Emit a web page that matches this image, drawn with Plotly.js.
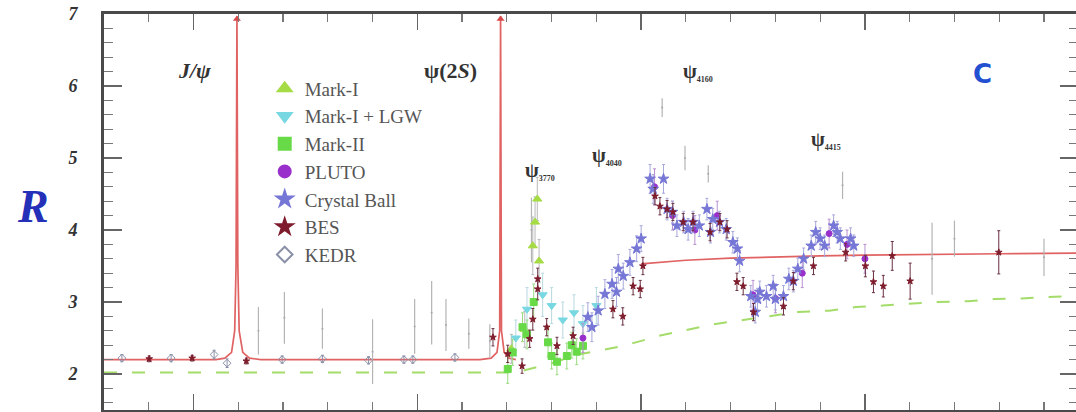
<!DOCTYPE html>
<html>
<head>
<meta charset="utf-8">
<script src="https://cdn.plot.ly/plotly-3.0.1.min.js"></script>
<style>
html,body{margin:0;padding:0;background:#fff;overflow:hidden;}
#chart{width:1080px;height:412px;}
</style>
</head>
<body>
<div id="chart"></div>
<script>
// ---- data (sqrt(s) in GeV, R) ----
const curveE = [2.80,3.05,3.07,3.085,3.092,3.095,3.097,3.099,3.102,3.11,3.125,3.15,3.64,3.665,3.678,3.684,3.686,3.688,3.694,3.705,3.72,null,4.00,4.10,4.20,4.30,4.40,4.50,4.60,4.70,4.80,4.98];
const curveR = [2.2,2.2,2.22,2.3,2.6,3.5,6.97,3.5,2.6,2.3,2.22,2.2,2.2,2.22,2.3,2.6,6.97,2.6,2.3,2.22,2.2,null,3.53,3.58,3.61,3.63,3.64,3.65,3.66,3.66,3.67,3.68];

// off-scale resonance peaks (arrow heads at the top of the frame)
const peakE = [3.097,3.686];
const peakR = [6.93,6.93];

const dashE = [2.80,3.72,3.80,3.86,3.96,4.04,4.16,4.29,4.35,4.42,4.48,4.54,4.60,4.66,4.73,4.79,4.85,4.91,4.98];
const dashR = [2.02,2.02,2.15,2.27,2.39,2.53,2.69,2.81,2.86,2.88,2.93,2.95,2.97,3.00,3.01,3.04,3.05,3.07,3.09];

const markIE   = [3.710,3.740,3.758,3.763,3.768,3.772];
const markIR   = [2.35,2.62,3.78,4.11,4.43,3.57];
const markIErr = [0.20,0.25,0.40,0.35,0.30,0.30];

const lgwE   = [3.720,3.745,3.780,3.800,3.825,3.850,3.870,3.900];
const lgwR   = [2.50,2.90,3.10,2.95,2.75,2.85,2.70,2.95];
const lgwErr = [0.25,0.30,0.30,0.25,0.25,0.25,0.25,0.25];

const markIIE   = [3.702,3.713,3.735,3.745,3.760,3.792,3.800,3.812,3.834,3.845,3.856,3.870];
const markIIR   = [2.07,2.30,2.65,2.55,3.00,2.44,2.25,2.17,2.25,2.40,2.31,2.39];
const markIIErr = [0.20,0.18,0.20,0.20,0.25,0.20,0.18,0.18,0.18,0.18,0.18,0.18];

const plutoE   = [3.870,4.030,4.070,4.120,4.170,4.250,4.300,4.360,4.420,4.460,4.500];
const plutoR   = [2.50,4.60,4.20,4.00,4.20,3.10,3.05,3.40,3.95,3.80,3.60];
const plutoErr = [0.20,0.25,0.20,0.20,0.20,0.20,0.20,0.20,0.20,0.20,0.20];

const cbE = [3.881,3.890,3.904,3.919,3.935,3.945,3.949,3.960,3.975,3.990,4.000,4.020,4.027,4.050,4.058,4.070,4.080,4.095,4.105,4.116,4.130,4.147,4.155,4.160,4.175,4.190,4.205,4.215,4.220,4.245,4.255,4.260,4.265,4.280,4.295,4.300,4.318,4.330,4.340,4.350,4.363,4.380,4.390,4.400,4.410,4.430,4.438,4.445,4.468,4.475];
const cbR = [2.79,2.65,2.88,3.11,3.25,3.14,3.46,3.36,3.55,3.74,3.88,4.71,4.57,4.71,4.29,4.25,4.06,4.11,4.01,4.11,4.06,4.29,3.97,4.15,4.11,4.01,3.83,3.74,3.57,3.08,2.86,3.04,3.14,3.08,3.22,3.04,3.08,3.32,3.29,3.46,3.60,3.78,3.97,3.88,3.78,4.06,3.97,3.88,3.88,3.78];
const cbErr = [0.20,0.20,0.20,0.20,0.20,0.20,0.20,0.18,0.18,0.18,0.18,0.20,0.20,0.20,0.15,0.15,0.15,0.15,0.15,0.15,0.15,0.15,0.15,0.15,0.15,0.15,0.15,0.15,0.15,0.15,0.15,0.15,0.15,0.15,0.15,0.15,0.15,0.15,0.15,0.15,0.15,0.15,0.15,0.15,0.15,0.15,0.15,0.15,0.15,0.15];

const besE = [2.901,2.997,3.118,3.669,3.702,3.734,3.751,3.758,3.769,3.769,3.789,3.812,3.848,3.937,3.959,3.982,3.998,4.004,4.031,4.042,4.058,4.071,4.094,4.116,4.154,4.176,4.192,4.214,4.228,4.251,4.318,4.340,4.385,4.457,4.501,4.519,4.541,4.561,4.601,4.799];
const besR = [2.21,2.22,2.18,2.51,2.28,2.11,2.49,2.76,3.32,3.18,2.65,2.39,2.53,2.90,2.80,3.22,3.18,3.50,4.47,4.33,4.29,4.25,4.11,4.11,3.97,4.11,4.01,3.28,3.22,2.86,2.94,3.29,3.50,3.69,3.50,3.28,3.22,3.64,3.29,3.69];
const besErr = [0.04,0.04,0.04,0.12,0.12,0.10,0.12,0.15,0.15,0.15,0.12,0.12,0.12,0.12,0.12,0.12,0.12,0.12,0.12,0.12,0.12,0.12,0.12,0.12,0.12,0.12,0.12,0.12,0.12,0.12,0.12,0.12,0.12,0.12,0.15,0.15,0.15,0.20,0.25,0.30];

const kedrE = [2.840,2.950,3.046,3.075,3.198,3.288,3.391,3.470,3.490,3.584];
const kedrR = [2.22,2.22,2.27,2.15,2.20,2.21,2.19,2.20,2.20,2.23];
const kedrErr = [0.05,0.05,0.06,0.06,0.05,0.05,0.05,0.05,0.05,0.05];

const otherE = [3.145,3.203,3.288,3.400,3.494,3.532,3.564,3.615,3.662,3.755,4.047,4.098,4.150,4.450,4.650,4.700,4.900];
const otherR = [2.60,2.78,2.63,2.31,2.66,2.85,2.68,2.56,2.46,4.00,5.70,5.00,4.78,4.62,3.60,3.88,3.62];
const otherErr = [0.33,0.36,0.28,0.45,0.38,0.44,0.36,0.21,0.23,0.45,0.13,0.17,0.12,0.19,0.50,0.25,0.26];

const yTicks = [2,3,4,5,6,7];
const yTickText = ['2','3','4','5','6','7'];

// ---- traces ----
function pts(name, x, y, err, symbol, color, size, group, ecol){
  return {type:'scatter', mode:'markers', name:name, x:x, y:y, legendgroup:group,
    marker:{symbol:symbol, color:color, size:size, line:{color:color, width:1}},
    error_y:{type:'data', array:err, visible:true, color:ecol||color, thickness:1, width:1.5},
    cliponaxis:true};
}
const traces = [
  {type:'scatter', mode:'lines', x:dashE, y:dashR, showlegend:false, hoverinfo:'skip',
   line:{color:'#a4dc6a', width:2, dash:'13px,15px'}},
  {type:'scatter', mode:'lines', x:curveE, y:curveR, showlegend:false, connectgaps:false, hoverinfo:'skip',
   line:{color:'#e06262', width:1.7}},
  {type:'scatter', mode:'markers', x:peakE, y:peakR, showlegend:false, hoverinfo:'skip', cliponaxis:false,
   marker:{symbol:'triangle-up', size:7, color:'#d84848'}},
  {type:'scatter', mode:'markers', x:otherE, y:otherR, showlegend:false,
   marker:{color:'#a8a8a8', size:2},
   error_y:{type:'data', array:otherErr, visible:true, color:'#b4b4b4', thickness:1.2, width:0}},
  pts('KEDR', kedrE, kedrR, kedrErr, 'diamond-open', '#8a90a8', 6, 'g7'),
  pts('Mark-I', markIE, markIR, markIErr, 'triangle-up', '#a5dc45', 8, 'g1', '#b8b8b8'),
  pts('Mark-I + LGW', lgwE, lgwR, lgwErr, 'triangle-down', '#78d8e2', 8, 'g2', '#b8d8e0'),
  pts('Mark-II', markIIE, markIIR, markIIErr, 'square', '#68da48', 7, 'g3', '#9ada80'),
  pts('PLUTO', plutoE, plutoR, plutoErr, 'circle', '#9a30cc', 6, 'g4', '#b890d0'),
  pts('Crystal Ball', cbE, cbR, cbErr, 'star', '#7676d6', 8, 'g5', '#a8a8dc'),
  pts('BES', besE, besR, besErr, 'star', '#7e1c2c', 5, 'g6', '#6a3040')
];
// legend order
const order = ['Mark-I','Mark-I + LGW','Mark-II','PLUTO','Crystal Ball','BES','KEDR'];
traces.forEach(t=>{ if(t.name){ t.legendrank = order.indexOf(t.name)+1; } });

const serif = "'Liberation Serif', 'Times New Roman', serif";
const subStyle = "style='font-size:8px'";
const annotations = [
  {xref:'paper', yref:'paper', x:-0.073, y:0.515, xanchor:'center', yanchor:'middle', showarrow:false,
   text:'R', font:{family:serif, size:46, color:'#2530b8', weight:'bold', style:'italic'}},
  {x:3.002, y:6.22, xref:'x', yref:'y', xanchor:'center', yanchor:'middle', showarrow:false,
   text:'J/ψ', font:{family:serif, size:22, color:'#333', weight:'bold', style:'italic'}},
  {x:3.575, y:6.22, xref:'x', yref:'y', xanchor:'center', yanchor:'middle', showarrow:false,
   text:'ψ(2<i>S</i>)', font:{family:serif, size:22, color:'#333', weight:'bold'}},
  {x:3.735, y:4.82, xref:'x', yref:'y', xanchor:'left', yanchor:'middle', showarrow:false,
   text:'ψ<sub><span '+subStyle+'>3770</span></sub>', font:{family:serif, size:20, color:'#333', weight:'bold'}},
  {x:3.885, y:5.03, xref:'x', yref:'y', xanchor:'left', yanchor:'middle', showarrow:false,
   text:'ψ<sub><span '+subStyle+'>4040</span></sub>', font:{family:serif, size:20, color:'#333', weight:'bold'}},
  {x:4.09, y:6.20, xref:'x', yref:'y', xanchor:'left', yanchor:'middle', showarrow:false,
   text:'ψ<sub><span '+subStyle+'>4160</span></sub>', font:{family:serif, size:20, color:'#333', weight:'bold'}},
  {x:4.375, y:5.25, xref:'x', yref:'y', xanchor:'left', yanchor:'middle', showarrow:false,
   text:'ψ<sub><span '+subStyle+'>4415</span></sub>', font:{family:serif, size:20, color:'#333', weight:'bold'}},
  {x:4.762, y:6.17, xref:'x', yref:'y', xanchor:'center', yanchor:'middle', showarrow:false,
   text:'C', font:{family:"'DejaVu Sans', sans-serif", size:26, color:'#2250d0', weight:'bold'}}
];

const layout = {
  width:1080, height:412,
  margin:{l:104, r:2, t:14, b:2, pad:0},
  paper_bgcolor:'#fff', plot_bgcolor:'#fff',
  showlegend:true,
  legend:{x:0.165, y:0.86, xanchor:'left', yanchor:'top', bgcolor:'rgba(0,0,0,0)',
    font:{family:serif, size:19, color:'#555'}, tracegroupgap:0, itemsizing:'constant'},
  xaxis:{range:[2.8,4.976], showline:true, linewidth:3, linecolor:'#4a4a4a', mirror:'ticks',
    ticks:'inside', tick0:3.0, dtick:0.5, ticklen:16, tickwidth:1.3, tickcolor:'#666',
    minor:{dtick:0.1, ticks:'inside', ticklen:8, tickwidth:1.2, tickcolor:'#777'},
    showticklabels:false, showgrid:false, zeroline:false},
  yaxis:{range:[1.5,7.0], showline:true, linewidth:3, linecolor:'#4a4a4a', mirror:'ticks',
    ticks:'inside', tickmode:'array', tickvals:yTicks, ticktext:yTickText, ticklen:18, tickwidth:1.3, tickcolor:'#666',
    minor:{dtick:0.2, ticks:'inside', ticklen:9, tickwidth:1.2, tickcolor:'#777'},
    ticklabelstandoff:20,
    tickfont:{family:serif, size:18, color:'#333', weight:'bold', style:'italic'},
    showgrid:false, zeroline:false},
  annotations:annotations
};
Plotly.newPlot('chart', traces, layout, {displayModeBar:false, staticPlot:true});
</script>
</body>
</html>
